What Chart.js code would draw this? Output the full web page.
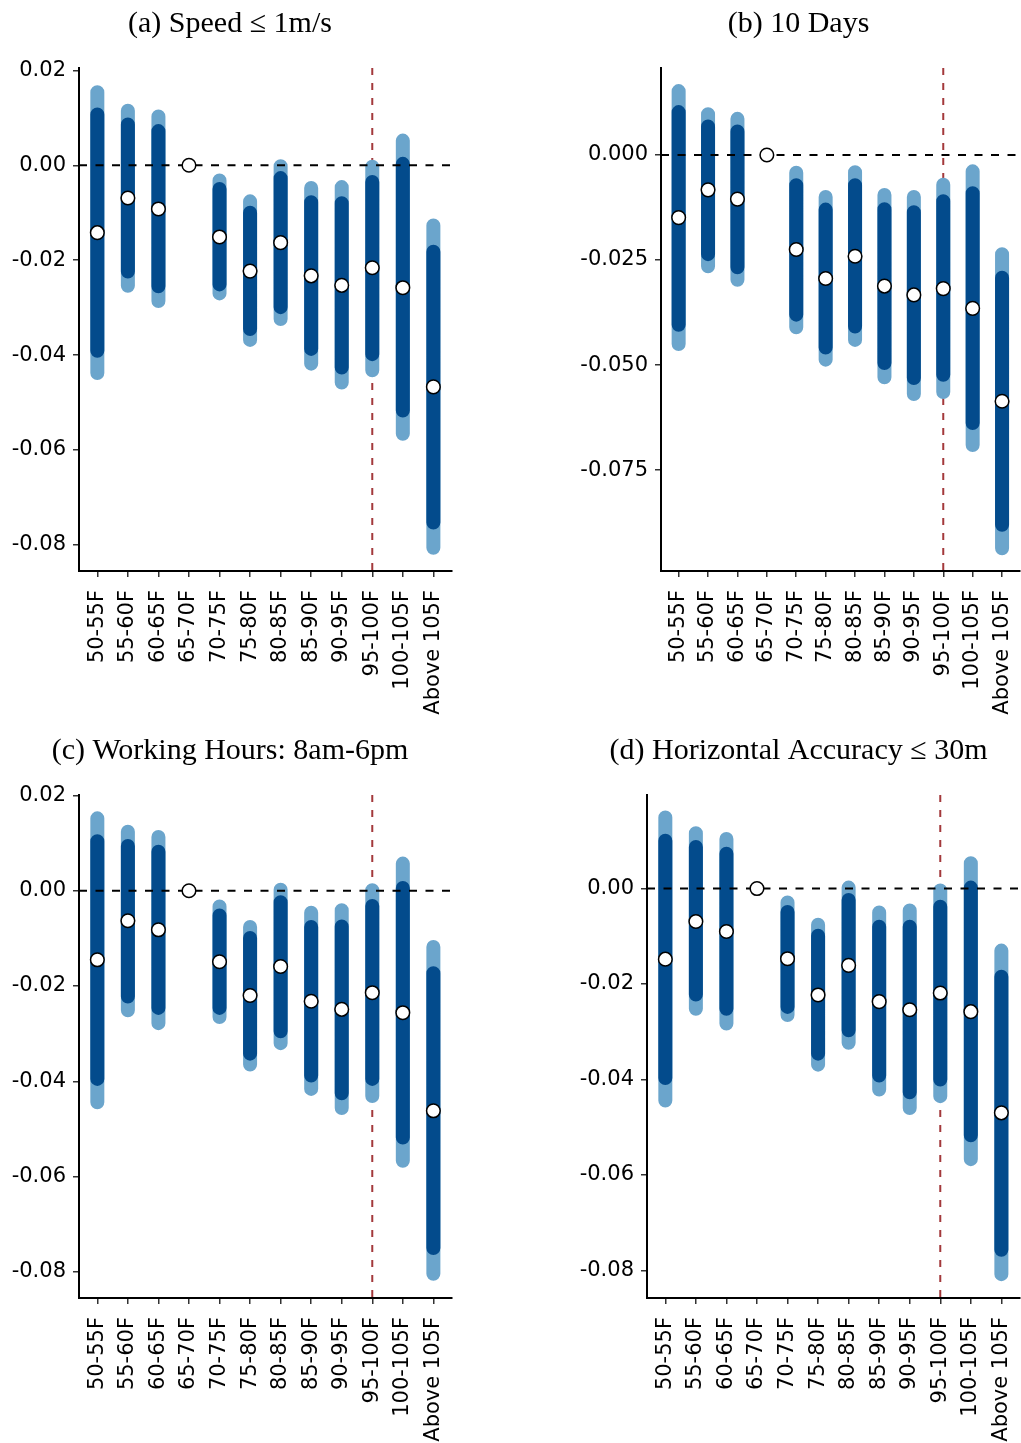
<!DOCTYPE html>
<html>
<head>
<meta charset="utf-8">
<script src="https://cdn.jsdelivr.net/npm/chart.js@4.4.0/dist/chart.umd.min.js"></script>
<style>
  body { margin: 0; background: #fff; width: 1021px; height: 1443px; position: relative; overflow: hidden; }
  .box { position: absolute; }
</style>
</head>
<body>
<div class="box" style="left:0px;top:0px"><canvas id="chartA" width="460" height="720"></canvas></div>
<div class="box" style="left:560px;top:0px"><canvas id="chartB" width="468" height="720"></canvas></div>
<div class="box" style="left:0px;top:727px"><canvas id="chartC" width="460" height="716"></canvas></div>
<div class="box" style="left:560px;top:727px"><canvas id="chartD" width="468" height="716"></canvas></div>
<script>
const cats = ["50-55F", "55-60F", "60-65F", "65-70F", "70-75F", "75-80F", "80-85F", "85-90F", "90-95F", "95-100F", "100-105F", "Above 105F"]
const cutoff = "95-100F"

// (a) Speed <= 1m/s
const estA  = [-0.0142, -0.0069, -0.0092, 0, -0.0151, -0.0223, -0.0163, -0.0233, -0.0253, -0.0216, -0.0258, -0.0467]
const hi90A = [0.0107, 0.0086, 0.0072, null, -0.0050, -0.0100, -0.0027, -0.0078, -0.0080, -0.0035, 0.0003, -0.0182]
const lo90A = [-0.0391, -0.0224, -0.0255, null, -0.0251, -0.0345, -0.0299, -0.0387, -0.0426, -0.0398, -0.0517, -0.0753]
const hi95A = [0.0154, 0.0115, 0.0103, null, -0.0032, -0.0076, -0.0002, -0.0048, -0.0046, -0.0003, 0.0052, -0.0127]
const lo95A = [-0.0438, -0.0254, -0.0286, null, -0.0270, -0.0368, -0.0324, -0.0418, -0.0458, -0.0432, -0.0566, -0.0806]

// (b) 10 Days
const estB  = [-0.0149, -0.0083, -0.0105, 0, -0.0225, -0.0294, -0.0241, -0.0312, -0.0333, -0.0318, -0.0365, -0.0586]
const hi90B = [0.0102, 0.0068, 0.0056, null, -0.0072, -0.0130, -0.0072, -0.0129, -0.0136, -0.0110, -0.0091, -0.0292]
const lo90B = [-0.0404, -0.0236, -0.0267, null, -0.0380, -0.0458, -0.0408, -0.0495, -0.0531, -0.0523, -0.0638, -0.0880]
const hi95B = [0.0152, 0.0097, 0.0086, null, -0.0042, -0.0100, -0.0041, -0.0095, -0.0100, -0.0071, -0.0039, -0.0236]
const lo95B = [-0.0450, -0.0265, -0.0297, null, -0.0410, -0.0487, -0.0440, -0.0529, -0.0569, -0.0564, -0.0690, -0.0936]

// (c) Working hours
const estC  = [-0.0145, -0.0063, -0.0082, 0, -0.0149, -0.0220, -0.0159, -0.0232, -0.0249, -0.0214, -0.0256, -0.0462]
const hi90C = [0.0104, 0.0094, 0.0082, null, -0.0052, -0.0099, -0.0024, -0.0076, -0.0075, -0.0032, 0.0006, -0.0173]
const lo90C = [-0.0395, -0.0222, -0.0246, null, -0.0246, -0.0342, -0.0295, -0.0388, -0.0425, -0.0395, -0.0518, -0.0750]
const hi95C = [0.0152, 0.0124, 0.0113, null, -0.0033, -0.0076, 0.0002, -0.0046, -0.0041, 0.0001, 0.0057, -0.0118]
const lo95C = [-0.0444, -0.0251, -0.0278, null, -0.0265, -0.0365, -0.0320, -0.0416, -0.0456, -0.0431, -0.0567, -0.0804]

// (d) Horizontal accuracy
const estD  = [-0.0148, -0.0069, -0.0090, 0, -0.0147, -0.0223, -0.0161, -0.0237, -0.0254, -0.0219, -0.0258, -0.0470]
const hi90D = [0.0100, 0.0087, 0.0073, null, -0.0049, -0.0099, -0.0024, -0.0080, -0.0080, -0.0038, 0.0002, -0.0185]
const lo90D = [-0.0397, -0.0222, -0.0252, null, -0.0248, -0.0346, -0.0297, -0.0392, -0.0427, -0.0400, -0.0517, -0.0757]
const hi95D = [0.0149, 0.0116, 0.0104, null, -0.0029, -0.0076, 0.0002, -0.0050, -0.0046, -0.0004, 0.0053, -0.0130]
const lo95D = [-0.0444, -0.0252, -0.0283, null, -0.0265, -0.0369, -0.0323, -0.0421, -0.0460, -0.0435, -0.0567, -0.0808]

const ticksA = [0.02, 0, -0.02, -0.04, -0.06, -0.08]
const ticksB = [0, -0.025, -0.05, -0.075]
const ticksC = [0.02, 0, -0.02, -0.04, -0.06, -0.08]
const ticksD = [0, -0.02, -0.04, -0.06, -0.08]

Chart.defaults.font.family = "'DejaVu Sans', sans-serif"
Chart.defaults.font.size = 21
Chart.defaults.color = "#000"

const light = "#6ba5cc"
const dark = "#034b8c"
const xMin = 0.4, xMax = 12.6

function segs(lo, hi) {
  const out = []
  lo.forEach((v, i) => {
    if (v === null) return
    out.push({x: i + 1, y: v}, {x: i + 1, y: hi[i]}, {x: i + 1, y: null})
  })
  return out
}

const panels = [
  {id: "chartA", title: "(a) Speed \u2264 1m/s", est: estA, lo90: lo90A, hi90: hi90A, lo95: lo95A, hi95: hi95A,
   ticks: ticksA, dec: 2, yMin: -0.0855, yMax: 0.0205, padL: 8, padR: 8, yw: 71, xh: 149},
  {id: "chartB", title: "(b) 10 Days", est: estB, lo90: lo90B, hi90: hi90B, lo95: lo95B, hi95: hi95B,
   ticks: ticksB, dec: 3, yMin: -0.0990, yMax: 0.0207, padL: 9, padR: 0, yw: 92, xh: 149},
  {id: "chartC", title: "(c) Working Hours: 8am-6pm", est: estC, lo90: lo90C, hi90: hi90C, lo95: lo95C, hi95: hi95C,
   ticks: ticksC, dec: 2, yMin: -0.0855, yMax: 0.0201, padL: 8, padR: 8, yw: 71, xh: 145},
  {id: "chartD", title: "(d) Horizontal Accuracy \u2264 30m", est: estD, lo90: lo90D, hi90: hi90D, lo95: lo95D, hi95: hi95D,
   ticks: ticksD, dec: 2, yMin: -0.0858, yMax: 0.0196, padL: 9, padR: 0, yw: 78, xh: 145}
]

panels.forEach((p) => {
  const ctx = document.getElementById(p.id)
  const cutX = cats.indexOf(cutoff) + 1
  const datasets = [
    {data: [{x: cutX, y: p.yMax}, {x: cutX, y: p.yMin}], borderColor: "#a3393b", borderWidth: 2, borderDash: [7, 8], order: 5},
    {data: segs(p.lo95, p.hi95), borderColor: light, borderWidth: 14, borderCapStyle: "round", order: 4},
    {data: segs(p.lo90, p.hi90), borderColor: dark, borderWidth: 14, borderCapStyle: "round", order: 3},
    {data: [{x: xMin, y: 0}, {x: xMax, y: 0}], borderColor: "#000", borderWidth: 2, borderDash: [8, 8.5], order: 2},
    {data: p.est.map((v, i) => ({x: i + 1, y: v})), showLine: false, pointRadius: 6.8,
     pointBackgroundColor: "#fff", pointBorderColor: "#000", pointBorderWidth: 1.5, order: 1}
  ]
  datasets.forEach((d) => {
    d.clip = false
    d.spanGaps = false
    if (d.pointRadius === undefined) d.pointRadius = 0
    d.pointHitRadius = 0
  })

  new Chart(ctx, {
    type: "line",
    data: {datasets: datasets},
    options: {
      responsive: false,
      animation: false,
      events: [],
      layout: {padding: {left: p.padL, right: p.padR, top: 0, bottom: 0}},
      plugins: {
        legend: {display: false},
        tooltip: {enabled: false},
        title: {
          display: true,
          text: p.title,
          color: "#000",
          font: {family: "'Liberation Serif', serif", size: 30, weight: "normal", lineHeight: 1.2},
          padding: {top: 6, bottom: 26}
        }
      },
      scales: {
        x: {
          type: "linear",
          min: xMin,
          max: xMax,
          afterBuildTicks: (axis) => { axis.ticks = cats.map((c, i) => ({value: i + 1})) },
          afterFit: (s) => { s.height = p.xh; s.paddingLeft = 0; s.paddingRight = 0 },
          grid: {drawOnChartArea: false, drawTicks: true, tickLength: 6, color: "#333", lineWidth: 1.5},
          border: {display: true, color: "#000", width: 2},
          ticks: {autoSkip: false, minRotation: 90, maxRotation: 90, padding: 13,
                  callback: (v) => cats[v - 1]}
        },
        y: {
          type: "linear",
          min: p.yMin,
          max: p.yMax,
          afterBuildTicks: (axis) => { axis.ticks = p.ticks.map((v) => ({value: v})) },
          afterFit: (s) => { s.width = p.yw },
          grid: {drawOnChartArea: false, drawTicks: true, tickLength: 6, color: "#333", lineWidth: 1.5},
          border: {display: true, color: "#000", width: 2},
          ticks: {padding: 7, callback: (v) => v.toFixed(p.dec)}
        }
      }
    }
  })
})
</script>
</body>
</html>
